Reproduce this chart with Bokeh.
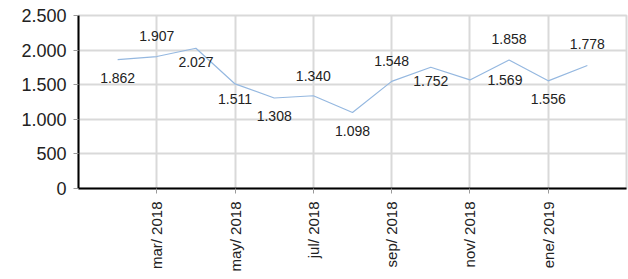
import math
from bokeh.plotting import figure
from bokeh.models import ColumnDataSource, FixedTicker, Range1d
from bokeh.core.properties import value
from bokeh.embed import file_html
from bokeh.resources import INLINE

# ---- data ----
months = ["feb/ 2018", "mar/ 2018", "abr/ 2018", "may/ 2018", "jun/ 2018", "jul/ 2018",
          "ago/ 2018", "sep/ 2018", "oct/ 2018", "nov/ 2018", "dic/ 2018", "ene/ 2019", "feb/ 2019"]
values = [1862, 1907, 2027, 1511, 1308, 1340, 1098, 1548, 1752, 1569, 1858, 1556, 1778]
x_tick_labels = ["mar/ 2018", "may/ 2018", "jul/ 2018", "sep/ 2018", "nov/ 2018", "ene/ 2019"]
y_ticks = [0, 500, 1000, 1500, 2000, 2500]

# label placement offsets (screen px)
label_dx = [0, 0, 0, 0, 0, 0, 0, 0, 0, 35, 0, 0, 0]
label_dy = [18, -21, 14, 15, 18, -20, 18, -20, 14, 0, -21, 18, -21]


def fmt(v):
    return f"{v:,}".replace(",", ".")


FONT = "Liberation Sans"

xs = [i + 1 for i in range(len(months))]
src = ColumnDataSource(dict(x=xs, y=values, label=[fmt(v) for v in values],
                            dx=label_dx, dy=label_dy))

p = figure(width=628, height=279, output_backend="svg", toolbar_location=None,
           x_range=Range1d(0, 14), y_range=Range1d(0, 2500))
p.min_border_left = 78
p.min_border_right = 2
p.min_border_top = 15
p.min_border_bottom = 91
p.background_fill_color = "white"
p.border_fill_color = "white"
p.outline_line_color = "#d9d9d9"
p.outline_line_width = 2

x_ticks = [months.index(l) + 1 for l in x_tick_labels]
p.xaxis.ticker = FixedTicker(ticks=x_ticks)
p.xaxis.major_label_overrides = {t: l for t, l in zip(x_ticks, x_tick_labels)}
p.xaxis.major_label_orientation = math.pi / 2
p.yaxis.ticker = FixedTicker(ticks=y_ticks)
p.yaxis.major_label_overrides = {t: fmt(t) for t in y_ticks}

for ax in (p.xaxis[0], p.yaxis[0]):
    ax.axis_line_color = "black"
    ax.axis_line_width = 2
    ax.major_tick_line_color = "#9a9a9a"
    ax.major_tick_in = 0
    ax.major_tick_out = 5
    ax.minor_tick_line_color = None
    ax.major_label_text_font = FONT
    ax.major_label_text_color = "#222222"

p.xaxis.major_label_text_font_size = "15px"
p.xaxis.major_label_standoff = 8
p.yaxis.major_label_text_font_size = "18px"
p.yaxis.major_label_standoff = 7

p.xgrid.ticker = FixedTicker(ticks=x_ticks)
p.ygrid.ticker = FixedTicker(ticks=y_ticks)
for g in (p.xgrid[0], p.ygrid[0]):
    g.grid_line_color = "#d9d9d9"
    g.grid_line_width = 2

p.line("x", "y", source=src, line_color="#95b8e0", line_width=1.2)
p.text("x", "y", text="label", source=src, x_offset="dx", y_offset="dy",
       text_align="center", text_baseline="middle", text_font=value(FONT),
       text_font_size="14px", text_color="#222222")

open("out.html", "w").write(file_html(p, INLINE))
